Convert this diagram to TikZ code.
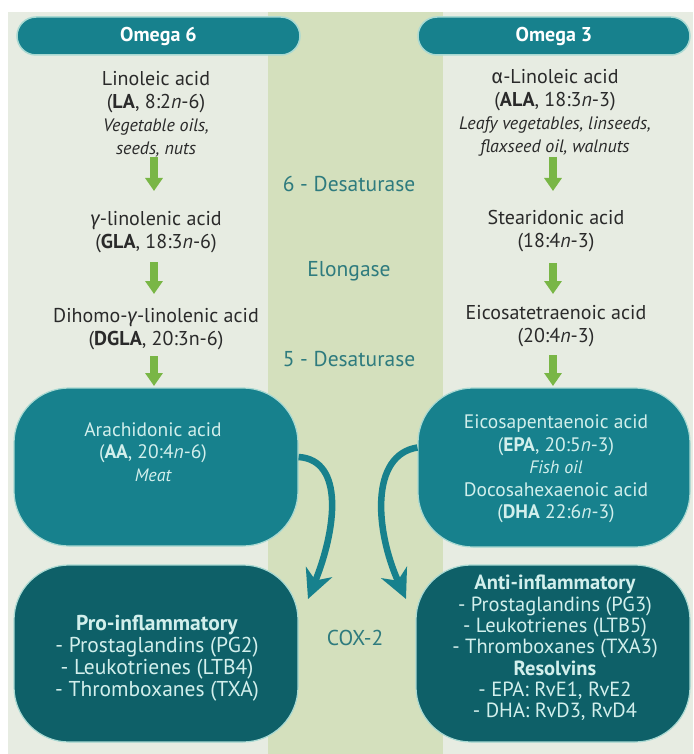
\documentclass[tikz,border=0pt]{standalone}
\usepackage{fontspec}
\setmainfont{PT Sans}
\newfontfamily\grk{Fira Sans}
\usetikzlibrary{arrows.meta}
\definecolor{panel}{HTML}{E7ECE2}
\definecolor{midpanel}{HTML}{D4E0BD}
\definecolor{tealA}{HTML}{17818D}
\definecolor{tealB}{HTML}{0E6068}
\definecolor{edgec}{HTML}{A9D9D2}
\definecolor{grn}{HTML}{79B646}
\definecolor{lbl}{HTML}{2E7B7E}
\definecolor{ink}{HTML}{2A2A2A}
\definecolor{boxtext}{HTML}{D2EFEC}
\newcommand\srcit[1]{{\fontsize{18}{23}\selectfont\itshape #1}}
\begin{document}
\begin{tikzpicture}[x=1pt,y=-1pt,
  txt/.style={font=\fontsize{20}{23}\selectfont, text=ink, align=center, inner sep=0pt},
  boxtxt/.style={font=\fontsize{19.5}{22.5}\selectfont, text=boxtext, align=center, inner sep=0pt},
  darktxt/.style={font=\fontsize{21.5}{21.8}\selectfont, text=boxtext, align=center, inner sep=0pt},
  enz/.style={font=\fontsize{21.5}{24}\selectfont, text=lbl, inner sep=0pt},
  pill/.style={fill=tealA, draw=edgec, line width=1.5pt, rounded corners=19pt, minimum height=38pt, text=white, font=\fontsize{20}{22}\selectfont\bfseries, inner sep=0pt},
  bigbox/.style={fill=tealA, draw=edgec, line width=1.2pt, rounded corners=55pt, inner sep=0pt},
  darkbox/.style={fill=tealB, draw=edgec, line width=1.2pt, rounded corners=55pt, inner sep=0pt},
  garrow/.style={draw=grn, line width=8pt, -{Triangle[width=17pt,length=13pt]}},
  carrow/.style={draw=tealA, line width=6.5pt, -{Stealth[length=29pt,width=28pt,inset=9pt]}}
]
\useasboundingbox (0,0) rectangle (693,754);
\fill[white] (0,0) rectangle (693,754);
\fill[panel] (8,12) rectangle (268,754);
\fill[midpanel] (268,12) rectangle (443,754);
\fill[panel] (443,12) rectangle (693,754);

% headers
\node[pill, minimum width=283pt] (h6) at (158.5,36) {Omega 6};
\node[pill, minimum width=272pt] (h3) at (554,36) {Omega 3};

% omega 6 column
\node[txt] (la) at (156,114) {Linoleic acid\\(\textbf{LA}, 8:2\textit{n}-6)\\\srcit{Vegetable oils,}\\\srcit{seeds, nuts}};
\node[txt] (gla) at (156,232) {{\grk\itshape γ}-linolenic acid\\(\textbf{GLA}, 18:3\textit{n}-6)};
\node[txt] (dgla) at (156,329) {Dihomo-{\grk\itshape γ}-linolenic acid\\(\textbf{DGLA}, 20:3n-6)};

\node[bigbox, minimum width=284pt, minimum height=158pt] (aa) at (156,467) {};
\node[boxtxt] (aatxt) at (153,452) {Arachidonic acid\\(\textbf{AA}, 20:4\textit{n}-6)\\\srcit{Meat}};

\node[darkbox, minimum width=284pt, minimum height=177pt] (pro) at (156,653.5) {};
\node[darktxt] (protxt) at (157,658) {\textbf{Pro-inflammatory}\\- Prostaglandins (PG2)\\- Leukotrienes (LTB4)\\- Thromboxanes (TXA)};

% omega 3 column
\node[txt] (ala) at (555,113) {{\grk α}-Linoleic acid\\(\textbf{ALA}, 18:3\textit{n}-3)\\\srcit{Leafy vegetables, linseeds,}\\\srcit{flaxseed oil, walnuts}};
\node[txt] (sda) at (556,231) {Stearidonic acid\\(18:4\textit{n}-3)};
\node[txt] (eta) at (556,326) {Eicosatetraenoic acid\\(20:4\textit{n}-3)};

\node[bigbox, minimum width=272pt, minimum height=159pt] (epa) at (554,467.5) {};
\node[boxtxt] (epatxt) at (556,469) {Eicosapentaenoic acid\\(\textbf{EPA}, 20:5\textit{n}-3)\\\srcit{Fish oil}\\Docosahexaenoic acid\\(\textbf{DHA} 22:6\textit{n}-3)};

\node[darkbox, minimum width=274pt, minimum height=177pt] (anti) at (553,653.5) {};
\node[darktxt, font=\fontsize{20.5}{21.3}\selectfont] (antitxt) at (555,648) {\textbf{Anti-inflammatory}\\- Prostaglandins (PG3)\\- Leukotrienes (LTB5)\\- Thromboxanes (TXA3)\\\textbf{Resolvins}\\- EPA: RvE1, RvE2\\- DHA: RvD3, RvD4};

% enzyme labels
\node[enz] (d6) at (349,184) {6 - Desaturase};
\node[enz] (elo) at (349,271) {Elongase};
\node[enz] (d5) at (349,359) {5 - Desaturase};
\node[enz] (cox) at (355,638) {COX-2};

% green arrows
\coordinate (l1a) at (154,157); \coordinate (l1b) at (154,191);
\coordinate (l2a) at (154,262); \coordinate (l2b) at (154,294);
\coordinate (l3a) at (154,356); \coordinate (l3b) at (154,386);
\coordinate (r1a) at (553,157); \coordinate (r1b) at (553,191);
\coordinate (r2a) at (553,263); \coordinate (r2b) at (553,294);
\coordinate (r3a) at (553,355); \coordinate (r3b) at (553,386);
\draw[garrow] (l1a) -- (l1b);
\draw[garrow] (l2a) -- (l2b);
\draw[garrow] (l3a) -- (l3b);
\draw[garrow] (r1a) -- (r1b);
\draw[garrow] (r2a) -- (r2b);
\draw[garrow] (r3a) -- (r3b);

% COX-2 arrows
\coordinate (ltip) at (308,599);
\coordinate (rtip) at (406,599);
\draw[carrow] ([yshift=10pt]aa.east) .. controls (345,460) and (336,530) .. (ltip);
\draw[carrow] ([yshift=20pt]epa.west) .. controls (370,455) and (375,530) .. (rtip);
\end{tikzpicture}
\end{document}
